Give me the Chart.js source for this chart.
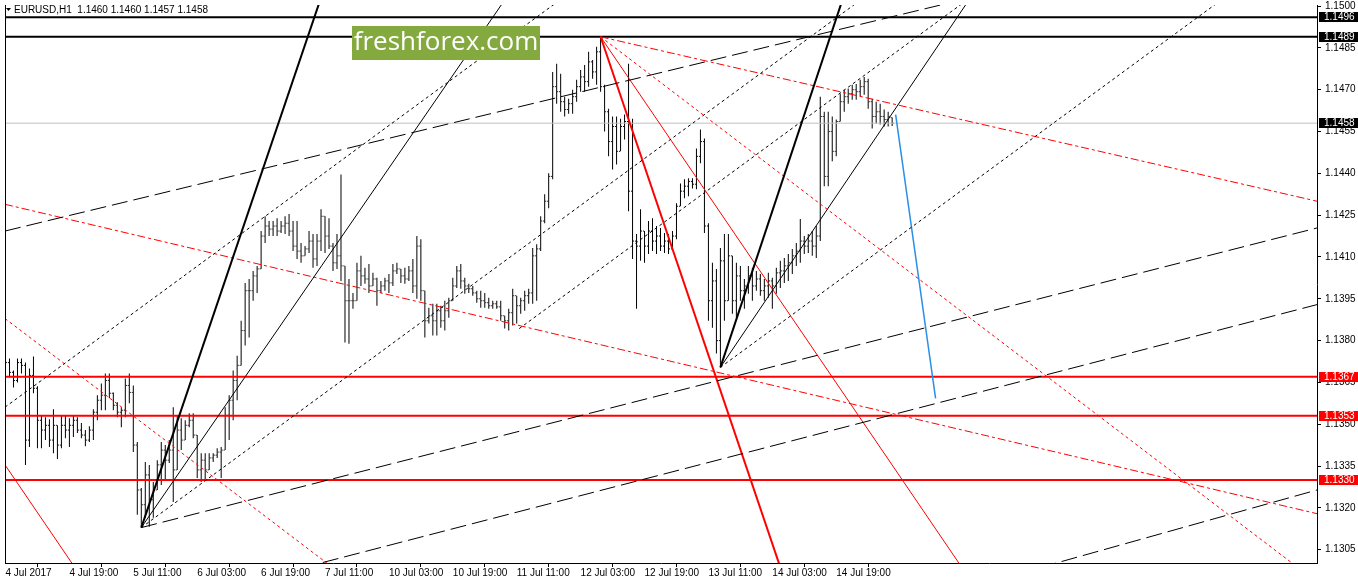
<!DOCTYPE html>
<html>
<head>
<meta charset="utf-8">
<script src="https://cdn.jsdelivr.net/npm/chart.js@4.4.1/dist/chart.umd.min.js"></script>
<style>
  html, body { margin: 0; padding: 0; background: #fff; }
  #wrap { width: 1358px; height: 584px; position: relative; }
</style>
</head>
<body>
<div id="wrap"><canvas id="eurusdChart"></canvas></div>
<script>
// EURUSD H1, one entry per hourly bar (bar 0 = 4 Jul 03:00)
const barOpen = [
  1.13746,1.13721,1.13686,1.13657,1.13721,1.13711,1.13443,1.13675,1.13629,1.13514,
  1.13479,1.13496,1.13443,1.13496,1.13425,1.13496,1.13479,1.13496,1.13514,1.13479,
  1.13461,1.13443,1.13479,1.13543,1.13586,1.13604,1.13657,1.13611,1.13568,1.13543,
  1.13550,1.13639,1.13614,1.13425,1.13264,1.13211,1.13318,1.13229,1.13264,1.13354,
  1.13407,1.13371,1.13407,1.13336,1.13479,1.13443,1.13496,1.13514,1.13461,1.13336,
  1.13371,1.13336,1.13379,1.13389,1.13400,1.13407,1.13532,1.13586,1.13657,1.13711,
  1.13836,1.13979,1.13979,1.14032,1.14057,1.14175,1.14211,1.14200,1.14211,1.14193,
  1.14211,1.14221,1.14193,1.14139,1.14121,1.14104,1.14129,1.14157,1.14093,1.14157,
  1.14246,1.14175,1.14139,1.14079,1.14104,1.14068,1.13943,1.13943,1.13943,1.14050,
  1.14032,1.14021,1.13996,1.14021,1.13979,1.13996,1.14014,1.14007,1.14050,1.14057,
  1.14032,1.14021,1.14050,1.13996,1.14139,1.13979,1.13871,1.13889,1.13871,1.13907,
  1.13871,1.13907,1.13943,1.13996,1.14050,1.14014,1.13996,1.13986,1.13971,1.13950,
  1.13943,1.13936,1.13925,1.13932,1.13921,1.13889,1.13871,1.13900,1.13961,1.13925,
  1.13943,1.13961,1.13971,1.14104,1.14129,1.14229,1.14300,1.14389,1.14711,1.14693,
  1.14657,1.14629,1.14650,1.14675,1.14711,1.14746,1.14729,1.14800,1.14764,1.14836,
  1.14711,1.14621,1.14514,1.14568,1.14479,1.14568,1.14586,1.14336,1.14157,1.14139,
  1.14193,1.14139,1.14193,1.14157,1.14175,1.14139,1.14157,1.14129,1.14175,1.14282,
  1.14336,1.14354,1.14371,1.14361,1.14461,1.14514,1.14211,1.13943,1.14014,1.13800,
  1.14086,1.13943,1.14104,1.13943,1.14032,1.13979,1.13996,1.14032,1.13996,1.14021,
  1.13979,1.13996,1.14014,1.13996,1.14043,1.14050,1.14068,1.14079,1.14104,1.14121,
  1.14157,1.14139,1.14157,1.14139,1.14175,1.14604,1.14389,1.14550,1.14479,1.14586,
  1.14657,1.14675,1.14686,1.14700,1.14693,1.14711,1.14729,1.14657,1.14604,1.14621,
  1.14604,1.14593,1.14600
];
const barHigh = [
  1.13764,1.13736,1.13693,1.13736,1.13736,1.13721,1.13700,1.13743,1.13636,1.13532,
  1.13525,1.13518,1.13554,1.13496,1.13532,1.13532,1.13521,1.13532,1.13525,1.13504,
  1.13479,1.13493,1.13554,1.13604,1.13646,1.13682,1.13682,1.13614,1.13579,1.13561,
  1.13664,1.13682,1.13639,1.13436,1.13271,1.13364,1.13354,1.13293,1.13371,1.13436,
  1.13425,1.13443,1.13561,1.13532,1.13521,1.13514,1.13539,1.13539,1.13461,1.13396,
  1.13396,1.13396,1.13396,1.13414,1.13418,1.13561,1.13604,1.13693,1.13746,1.13871,
  1.14007,1.14021,1.14050,1.14068,1.14193,1.14246,1.14229,1.14229,1.14239,1.14229,
  1.14246,1.14254,1.14229,1.14229,1.14150,1.14139,1.14193,1.14182,1.14182,1.14271,
  1.14246,1.14239,1.14150,1.14182,1.14396,1.14068,1.14021,1.13971,1.14079,1.14104,
  1.14061,1.14075,1.14043,1.14025,1.14014,1.14025,1.14039,1.14075,1.14079,1.14057,
  1.14061,1.14068,1.14093,1.14175,1.14164,1.13979,1.13918,1.13932,1.13932,1.13925,
  1.13943,1.13954,1.14025,1.14068,1.14075,1.14025,1.14004,1.13996,1.13979,1.13979,
  1.13971,1.13954,1.13943,1.13943,1.13943,1.13889,1.13914,1.13986,1.13961,1.13954,
  1.13979,1.13986,1.14132,1.14146,1.14246,1.14325,1.14400,1.14764,1.14793,1.14757,
  1.14675,1.14668,1.14700,1.14736,1.14771,1.14789,1.14836,1.14807,1.14854,1.14890,
  1.14718,1.14632,1.14604,1.14604,1.14596,1.14611,1.14793,1.14596,1.14182,1.14271,
  1.14193,1.14229,1.14239,1.14211,1.14204,1.14186,1.14182,1.14193,1.14293,1.14364,
  1.14379,1.14382,1.14382,1.14489,1.14557,1.14525,1.14221,1.14079,1.14057,1.14132,
  1.14182,1.14182,1.14104,1.14079,1.14068,1.14021,1.14068,1.14061,1.14050,1.14039,
  1.14021,1.14043,1.14025,1.14061,1.14086,1.14096,1.14111,1.14129,1.14150,1.14236,
  1.14175,1.14182,1.14193,1.14211,1.14675,1.14621,1.14621,1.14604,1.14593,1.14686,
  1.14700,1.14704,1.14718,1.14721,1.14736,1.14746,1.14739,1.14668,1.14657,1.14650,
  1.14629,1.14621,1.14600
];
const barLow = [
  1.13704,1.13668,1.13632,1.13650,1.13682,1.13354,1.13418,1.13611,1.13414,1.13414,
  1.13443,1.13418,1.13396,1.13375,1.13414,1.13450,1.13418,1.13454,1.13468,1.13450,
  1.13421,1.13436,1.13443,1.13514,1.13550,1.13550,1.13593,1.13550,1.13525,1.13489,
  1.13525,1.13575,1.13400,1.13175,1.13129,1.13164,1.13132,1.13164,1.13264,1.13282,
  1.13300,1.13361,1.13221,1.13336,1.13407,1.13443,1.13489,1.13450,1.13307,1.13293,
  1.13300,1.13336,1.13364,1.13379,1.13307,1.13407,1.13443,1.13514,1.13586,1.13711,
  1.13782,1.13811,1.13943,1.13971,1.14057,1.14150,1.14175,1.14175,1.14175,1.14186,
  1.14182,1.14175,1.14121,1.14093,1.14079,1.14104,1.14114,1.14061,1.14068,1.14121,
  1.14114,1.14129,1.14050,1.14057,1.14014,1.13793,1.13789,1.13914,1.13943,1.13996,
  1.14004,1.13971,1.13996,1.13925,1.13971,1.13979,1.13971,1.13996,1.14039,1.14007,
  1.14004,1.14014,1.13971,1.13950,1.13943,1.13811,1.13861,1.13818,1.13818,1.13846,
  1.13836,1.13882,1.13943,1.13989,1.13986,1.13968,1.13971,1.13961,1.13936,1.13918,
  1.13918,1.13914,1.13914,1.13914,1.13871,1.13843,1.13836,1.13854,1.13861,1.13896,
  1.13907,1.13932,1.13932,1.13943,1.14121,1.14221,1.14275,1.14379,1.14650,1.14621,
  1.14604,1.14614,1.14614,1.14657,1.14693,1.14693,1.14711,1.14739,1.14718,1.14693,
  1.14550,1.14461,1.14414,1.14432,1.14479,1.14521,1.14264,1.14093,1.13914,1.14086,
  1.14079,1.14111,1.14121,1.14111,1.14121,1.14114,1.14111,1.14129,1.14164,1.14282,
  1.14311,1.14318,1.14346,1.14343,1.14436,1.14186,1.13871,1.13846,1.13754,1.13704,
  1.13871,1.13943,1.13896,1.13882,1.13943,1.13914,1.13968,1.13943,1.13979,1.13961,
  1.13943,1.13954,1.13914,1.13968,1.13989,1.14007,1.14014,1.14039,1.14068,1.14079,
  1.14111,1.14114,1.14104,1.14096,1.14157,1.14354,1.14354,1.14443,1.14461,1.14586,
  1.14621,1.14650,1.14664,1.14664,1.14675,1.14682,1.14632,1.14561,1.14579,1.14575,
  1.14568,1.14568,1.14570
];
const barClose = [
  1.13721,1.13686,1.13657,1.13721,1.13711,1.13443,1.13675,1.13629,1.13514,1.13479,
  1.13496,1.13443,1.13496,1.13425,1.13496,1.13479,1.13496,1.13514,1.13479,1.13461,
  1.13443,1.13479,1.13543,1.13586,1.13604,1.13657,1.13611,1.13568,1.13543,1.13550,
  1.13639,1.13614,1.13425,1.13264,1.13211,1.13318,1.13229,1.13264,1.13354,1.13407,
  1.13371,1.13407,1.13336,1.13479,1.13443,1.13496,1.13514,1.13461,1.13336,1.13371,
  1.13336,1.13379,1.13389,1.13400,1.13407,1.13532,1.13586,1.13657,1.13711,1.13836,
  1.13979,1.13979,1.14032,1.14057,1.14175,1.14211,1.14200,1.14211,1.14193,1.14211,
  1.14221,1.14193,1.14139,1.14121,1.14104,1.14129,1.14157,1.14093,1.14157,1.14246,
  1.14175,1.14139,1.14079,1.14104,1.14068,1.13943,1.13943,1.13943,1.14050,1.14032,
  1.14021,1.13996,1.14021,1.13979,1.13996,1.14014,1.14007,1.14050,1.14057,1.14032,
  1.14021,1.14050,1.13996,1.14139,1.13979,1.13871,1.13889,1.13871,1.13907,1.13871,
  1.13907,1.13943,1.13996,1.14050,1.14014,1.13996,1.13986,1.13971,1.13950,1.13943,
  1.13936,1.13925,1.13932,1.13921,1.13889,1.13871,1.13900,1.13961,1.13925,1.13943,
  1.13961,1.13971,1.14104,1.14129,1.14229,1.14300,1.14389,1.14711,1.14693,1.14657,
  1.14629,1.14650,1.14675,1.14711,1.14746,1.14729,1.14800,1.14764,1.14836,1.14711,
  1.14621,1.14514,1.14568,1.14479,1.14568,1.14586,1.14336,1.14157,1.14139,1.14193,
  1.14139,1.14193,1.14157,1.14175,1.14139,1.14157,1.14129,1.14175,1.14282,1.14336,
  1.14354,1.14371,1.14361,1.14461,1.14514,1.14211,1.13943,1.14014,1.13800,1.14086,
  1.13943,1.14104,1.13943,1.14032,1.13979,1.13996,1.14032,1.13996,1.14021,1.13979,
  1.13996,1.14014,1.13996,1.14043,1.14050,1.14068,1.14079,1.14104,1.14121,1.14157,
  1.14139,1.14157,1.14139,1.14175,1.14604,1.14389,1.14550,1.14479,1.14586,1.14657,
  1.14675,1.14686,1.14700,1.14693,1.14711,1.14729,1.14657,1.14604,1.14621,1.14604,
  1.14593,1.14604,1.14580
];

// time axis labels (bar index -> text)
const timeTickBars = [0, 16, 32, 48, 64, 80, 96, 112, 128, 144, 160, 176, 192, 208];
const timeTickLabels = ['4 Jul 2017', '4 Jul 19:00', '5 Jul 11:00', '6 Jul 03:00', '6 Jul 19:00',
  '7 Jul 11:00', '10 Jul 03:00', '10 Jul 19:00', '11 Jul 11:00', '12 Jul 03:00',
  '12 Jul 19:00', '13 Jul 11:00', '14 Jul 03:00', '14 Jul 19:00'];
const priceTicks = [1.1305, 1.1320, 1.1335, 1.1350, 1.1365, 1.1380, 1.1395, 1.1410,
  1.1425, 1.1440, 1.1455, 1.1470, 1.1485, 1.1500];

// horizontal levels
const levelPrices = [1.1496, 1.1489, 1.1458, 1.1367, 1.1353, 1.1330];

// trend lines: [bar1, price1, bar2, price2], drawn as rays to the right
const upperChannel = [-0.125, 1.14193, 234.125, 1.15004];
const fanJul5Steep = [34, 1.13129, 78.375, 1.15004];
const fanJul5Mid = [34, 1.13129, 124.125, 1.15004];
const fanJul5Flat = [34, 1.13129, 167.875, 1.14536];
const dotParallelLeft = [-0.125, 1.13561, 137.125, 1.15004];
const dotParallelJul11 = [128.625, 1.13843, 239.05, 1.15004];
const fanJul13Steep = [179, 1.13704, 209.125, 1.15004];
const fanJul13Mid = [179, 1.13704, 240.375, 1.15004];
const fanJul13Flat = [179, 1.13704, 302.7, 1.15004];
const lowerChannel1 = [34, 1.13129, 328.375, 1.14204];
const lowerChannel2 = [74.125, 1.12984, 328.375, 1.13929];
const lowerChannel3 = [259.125, 1.12986, 328.375, 1.13264];
const fanJul12Steep = [149, 1.14890, 194.6, 1.12961];
const fanJul12Mid = [149, 1.14890, 240.65, 1.12961];
const fanJul12Flat = [149, 1.14890, 328.375, 1.14300];
const fanJul12Dot = [149, 1.14890, 225.375, 1.14057];
const redDashLeft = [-0.125, 1.14289, 328.375, 1.13179];
const redDotLeft = [-0.125, 1.13879, 84.2, 1.12961];
const redThinLeft = [-0.125, 1.13354, 18.55, 1.12961];
const forecastPath = [222.875, 1.14611, 232.875, 1.13593];

const xMin = -0.125, xMax = 328.375;
const yMin = 1.13002, yMax = 1.15004;

const BLACK = '#000000', RED = '#ff0000', BLUE = '#2a8fe8';
const DOT = [3, 3], DASH = [16, 6], DASHDOT = [8, 3, 3, 3];

function rayPoints(a, ray) {
  const [x1, y1, x2, y2] = a;
  if (!ray) return [{x: x1, y: y1}, {x: x2, y: y2}];
  const k = (y2 - y1) / (x2 - x1);
  const xe = xMax + 4;
  return [{x: x1, y: y1}, {x: xe, y: y1 + k * (xe - x1)}];
}

function lineSet(a, color, width, dash, ray = true) {
  return {
    type: 'line', data: rayPoints(a, ray), borderColor: color, borderWidth: width,
    borderDash: dash || [], pointRadius: 0, tension: 0, order: 1
  };
}

function levelSet(p, color, width) {
  return {
    type: 'line', data: [{x: xMin, y: p}, {x: xMax, y: p}], borderColor: color,
    borderWidth: width, pointRadius: 0, order: 2
  };
}

const levelColors = ['#000000', '#000000', '#c0c0c0', RED, RED, RED];
const levelWidths = [2, 2, 1, 2, 2, 2];
const levelBoxColors = ['#000000', '#000000', '#000000', RED, RED, RED];

const datasets = [];
datasets.push({
  type: 'bar',
  data: barHigh.map((h, i) => ({x: i, y: [barLow[i], h]})),
  backgroundColor: BLACK, borderWidth: 0, barThickness: 1, inflateAmount: 0, order: 5
});
datasets.push({
  type: 'scatter',
  data: barOpen.map((v, i) => ({x: i - 0.25, y: v})),
  pointStyle: 'line', pointRadius: 0.5, pointBorderWidth: 1, borderColor: BLACK, order: 5
});
datasets.push({
  type: 'scatter',
  data: barClose.map((v, i) => ({x: i + 0.25, y: v})),
  pointStyle: 'line', pointRadius: 0.5, pointBorderWidth: 1, borderColor: BLACK, order: 5
});

levelPrices.forEach((p, k) => datasets.push(levelSet(p, levelColors[k], levelWidths[k])));

datasets.push(lineSet(upperChannel, BLACK, 1, DASH));
datasets.push(lineSet(lowerChannel1, BLACK, 1, DASH));
datasets.push(lineSet(lowerChannel2, BLACK, 1, DASH));
datasets.push(lineSet(lowerChannel3, BLACK, 1, DASH));
datasets.push(lineSet(fanJul5Steep, BLACK, 2));
datasets.push(lineSet(fanJul5Mid, BLACK, 1));
datasets.push(lineSet(fanJul5Flat, BLACK, 1, DOT));
datasets.push(lineSet(dotParallelLeft, BLACK, 1, DOT));
datasets.push(lineSet(dotParallelJul11, BLACK, 1, DOT));
datasets.push(lineSet(fanJul13Steep, BLACK, 2));
datasets.push(lineSet(fanJul13Mid, BLACK, 1));
datasets.push(lineSet(fanJul13Flat, BLACK, 1, DOT));
datasets.push(lineSet(fanJul12Steep, RED, 2));
datasets.push(lineSet(fanJul12Mid, RED, 1));
datasets.push(lineSet(fanJul12Flat, RED, 1, DASHDOT));
datasets.push(lineSet(fanJul12Dot, RED, 1, DOT));
datasets.push(lineSet(redDashLeft, RED, 1, DASHDOT));
datasets.push(lineSet(redDotLeft, RED, 1, DOT));
datasets.push(lineSet(redThinLeft, RED, 1));
datasets.push(lineSet(forecastPath, BLUE, 1.5, null, false));

const chartDecor = {
  id: 'chartDecor',
  afterDraw(chart) {
    const ctx = chart.ctx;
    const area = chart.chartArea;
    const yScale = chart.scales.y;
    ctx.save();

    // left frame
    ctx.strokeStyle = BLACK;
    ctx.lineWidth = 1;
    ctx.beginPath();
    ctx.moveTo(area.left + 0.5, area.top);
    ctx.lineTo(area.left + 0.5, area.bottom);
    ctx.stroke();

    // price tags on the axis
    ctx.font = '10px "Liberation Sans"';
    ctx.textBaseline = 'middle';
    ctx.textAlign = 'left';
    levelPrices.forEach((p, k) => {
      const py = Math.round(yScale.getPixelForValue(p));
      ctx.fillStyle = levelBoxColors[k];
      ctx.fillRect(area.right + 2, py - 5, chart.width - area.right - 2, 10);
      ctx.fillStyle = '#ffffff';
      ctx.fillText(p.toFixed(4), area.right + 7, py);
    });

    // symbol header
    const last = barClose.length - 1;
    ctx.fillStyle = BLACK;
    ctx.beginPath();
    ctx.moveTo(6, 8); ctx.lineTo(11, 8); ctx.lineTo(8.5, 11);
    ctx.closePath();
    ctx.fill();
    ctx.fillText('EURUSD,H1  ' + barOpen[last].toFixed(4) + ' ' + barHigh[last].toFixed(4) + ' ' +
      barLow[last].toFixed(4) + ' ' + barClose[last].toFixed(4), 14, 10);

    // watermark
    ctx.fillStyle = '#84a93f';
    ctx.fillRect(352, 26, 188, 34);
    ctx.fillStyle = '#ffffff';
    ctx.font = '26px "Open Sans"';
    ctx.textAlign = 'center';
    ctx.fillText('freshforex.com', 446, 43);
    ctx.restore();
  }
};

Chart.defaults.font.family = '"Liberation Sans", Arial, sans-serif';
Chart.defaults.font.size = 10;
Chart.defaults.color = '#000000';

new Chart(document.getElementById('eurusdChart'), {
  type: 'bar',
  data: { datasets },
  options: {
    responsive: true,
    maintainAspectRatio: false,
    animation: false,
    layout: { padding: { left: 3, top: 3, right: 0, bottom: 0 } },
    plugins: { legend: { display: false }, tooltip: { enabled: false } },
    scales: {
      x: {
        type: 'linear', min: xMin, max: xMax, offset: false,
        afterFit(scale) {
          scale.height = 21;
          scale.paddingLeft = 0;
          scale.paddingRight = 0;
        },
        afterBuildTicks(scale) { scale.ticks = timeTickBars.map(v => ({ value: v })); },
        ticks: {
          autoSkip: false, maxRotation: 0, minRotation: 0, align: 'start', padding: 0,
          callback: (v, i) => timeTickLabels[i]
        },
        grid: { drawOnChartArea: false, drawTicks: true, tickLength: 4, color: BLACK },
        border: { display: true, color: BLACK }
      },
      y: {
        type: 'linear', position: 'right', min: yMin, max: yMax,
        afterFit(scale) {
          scale.width = 41;
          scale.paddingTop = 0;
          scale.paddingBottom = 0;
        },
        afterBuildTicks(scale) { scale.ticks = priceTicks.map(v => ({ value: v })); },
        ticks: { autoSkip: false, padding: 4, callback: v => v.toFixed(4) },
        grid: { drawOnChartArea: false, drawTicks: true, tickLength: 4, color: BLACK },
        border: { display: true, color: BLACK }
      }
    }
  },
  plugins: [chartDecor]
});
</script>
</body>
</html>
